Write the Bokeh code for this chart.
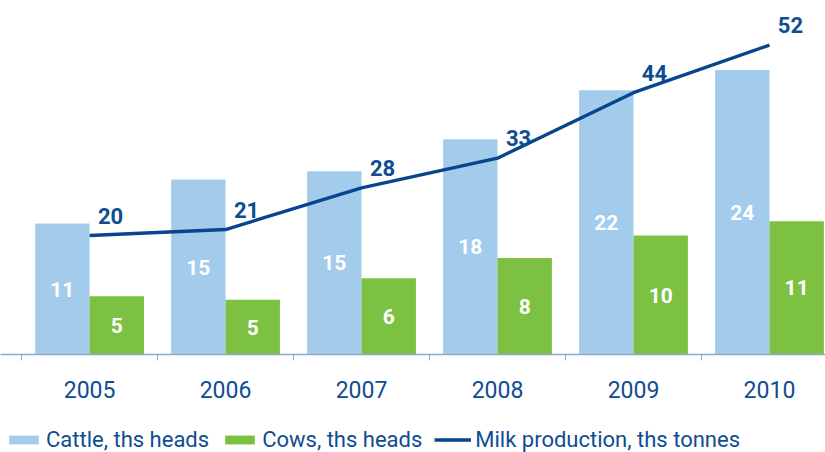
from bokeh.plotting import figure
from bokeh.layouts import column
from bokeh.models import ColumnDataSource, Range1d, FixedTicker, Legend, LegendItem
from bokeh.transform import dodge
from bokeh.core.properties import value
from bokeh.embed import file_html
from bokeh.resources import INLINE

# ---- data ----
years = ["2005", "2006", "2007", "2008", "2009", "2010"]
cattle = [11.0, 14.7, 15.4, 18.1, 22.2, 23.9]   # ths heads
cows = [4.9, 4.6, 6.4, 8.1, 10.0, 11.2]          # ths heads
milk = [20, 21, 28, 33, 44, 52]                  # ths tonnes
series_names = ["Cattle, ths heads", "Cows, ths heads", "Milk production, ths tonnes"]

CATTLE_C = "#A2CBEC"
COWS_C = "#7DC143"
LINE_C = "#07468F"
TEXT_C = "#0F4C91"
AXIS_C = "#8DA8C9"
FONT = "Roboto"

idx = list(range(len(years)))
src = ColumnDataSource(dict(
    idx=idx,
    cattle=cattle,
    cows=cows,
    milk=milk,
    cattle_mid=[v / 2 for v in cattle],
    cows_mid=[v / 2 for v in cows],
    cattle_lbl=[f"{v:.0f}" for v in cattle],
    cows_lbl=[f"{v:.0f}" for v in cows],
    milk_lbl=[f"{v:.0f}" for v in milk],
))

p = figure(width=825, height=420, output_backend="svg", toolbar_location=None,
           x_range=Range1d(-0.655, 5.412), y_range=Range1d(0, 29.75),
           min_border_left=0, min_border_right=0, min_border_top=0,
           min_border_bottom=66)
p.extra_y_ranges = {"milk": Range1d(0, 59.5)}
p.outline_line_color = None
p.xgrid.visible = False
p.ygrid.visible = False
p.yaxis.visible = False

p.vbar(x=dodge("idx", -0.2, range=p.x_range), top="cattle", width=0.4,
       source=src, fill_color=CATTLE_C, line_color=None)
p.vbar(x=dodge("idx", 0.2, range=p.x_range), top="cows", width=0.4,
       source=src, fill_color=COWS_C, line_color=None)
p.line(x="idx", y="milk", source=src, y_range_name="milk",
       line_color=LINE_C, line_width=3.4)

p.text(x=dodge("idx", -0.2, range=p.x_range), y="cattle_mid", text="cattle_lbl",
       source=src, text_color="white", text_font=value(FONT),
       text_font_size="21px", text_font_style="bold",
       text_align="center", text_baseline="middle")
p.text(x=dodge("idx", 0.2, range=p.x_range), y="cows_mid", text="cows_lbl",
       source=src, text_color="white", text_font=value(FONT),
       text_font_size="21px", text_font_style="bold",
       text_align="center", text_baseline="middle")
p.text(x="idx", y="milk", text="milk_lbl", source=src, y_range_name="milk",
       x_offset=21, y_offset=-20, text_color=TEXT_C, text_font=value(FONT),
       text_font_size="22px", text_font_style="bold",
       text_align="center", text_baseline="middle")

ax = p.xaxis[0]
ax.ticker = FixedTicker(ticks=idx, minor_ticks=[i - 0.5 for i in idx] + [len(idx) - 0.5])
ax.major_label_overrides = {i: y for i, y in zip(idx, years)}
ax.major_tick_line_color = None
ax.major_tick_out = 0
ax.major_tick_in = 0
ax.minor_tick_out = 6
ax.minor_tick_in = 0
ax.minor_tick_line_color = AXIS_C
ax.axis_line_color = AXIS_C
ax.axis_line_width = 1.5
ax.major_label_text_font = FONT
ax.major_label_text_font_size = "23px"
ax.major_label_text_color = TEXT_C
ax.major_label_standoff = 20

# ---- legend strip (separate figure with off-screen proxy renderers) ----
lg = figure(width=825, height=32, output_backend="svg", toolbar_location=None,
            x_range=Range1d(0, 1), y_range=Range1d(0, 1),
            min_border_left=0, min_border_right=0, min_border_top=0,
            min_border_bottom=0)
lg.outline_line_color = None
lg.axis.visible = False
lg.grid.visible = False
proxy = ColumnDataSource(dict(x=[-10.0], y=[-10.0]))
l1 = lg.vbar(x="x", top="y", width=0.1, source=proxy, fill_color=CATTLE_C, line_color=None)
l2 = lg.vbar(x="x", top="y", width=0.1, source=proxy, fill_color=COWS_C, line_color=None)
l3 = lg.line(x="x", y="y", source=proxy, line_color=LINE_C, line_width=3.4)

legend = Legend(items=[
    LegendItem(label=series_names[0], renderers=[l1]),
    LegendItem(label=series_names[1], renderers=[l2]),
    LegendItem(label=series_names[2], renderers=[l3]),
], orientation="horizontal", location=(5, 0))
legend.glyph_width = 37
legend.glyph_height = 11
legend.label_standoff = 4
legend.spacing = 12
legend.padding = 0
legend.margin = 0
legend.border_line_color = None
legend.background_fill_alpha = 0
legend.label_text_font = FONT
legend.label_text_font_size = "22px"
legend.label_text_color = TEXT_C
lg.add_layout(legend, "center")

layout = column(p, lg, spacing=0)
open("out.html", "w").write(file_html(layout, INLINE))
